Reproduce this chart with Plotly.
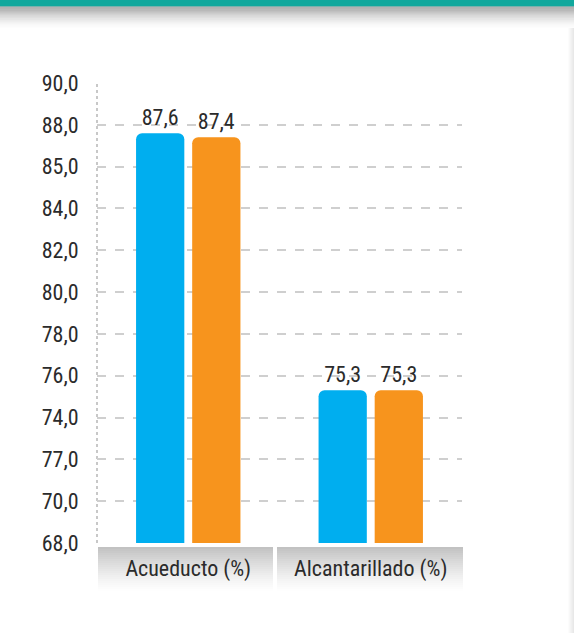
import plotly.graph_objects as go

categories = ["Acueducto (%)", "Alcantarillado (%)"]
series_a = [87.6, 75.3]
series_b = [87.4, 75.3]
tick_values = [68, 70, 72, 74, 76, 78, 80, 82, 84, 86, 88, 90]
tick_labels = ["68,0", "70,0", "77,0", "74,0", "76,0", "78,0", "80,0",
               "82,0", "84,0", "85,0", "88,0", "90,0"]

FONT = "Roboto Condensed, Roboto, sans-serif"
BLUE = "#00AEEF"
ORANGE = "#F7941D"

W, H = 574, 633
L, R, T, B = 97, 112, 83, 90
pw, ph = W - L - R, H - T - B


def px2x(px):
    return (px - L) / pw


def px2y(py):
    return (H - B - py) / ph


fig = go.Figure()
for vals, col in [(series_a, BLUE), (series_b, ORANGE)]:
    fig.add_trace(go.Bar(
        x=categories, y=vals, marker=dict(color=col, line=dict(width=0)),
        texttemplate="%{y:.1f}", textposition="outside",
        textfont=dict(family=FONT, size=22, color="#2b2b2b"),
        cliponaxis=False, hoverinfo="skip"))

shapes = []
# top teal band
shapes.append(dict(type="rect", xref="paper", yref="paper", x0=px2x(0), x1=px2x(W),
                   y0=px2y(0), y1=px2y(6.5), fillcolor="#12A89D", line=dict(width=0), layer="above"))
# shadow below the band
n = 20
for i in range(n):
    y0 = 6.5 + i * 1.1
    a = 0.55 * (1 - i / n) ** 1.6
    shapes.append(dict(type="rect", xref="paper", yref="paper", x0=px2x(0), x1=px2x(W),
                       y0=px2y(y0), y1=px2y(y0 + 1.1), fillcolor=f"rgba(90,90,90,{a:.3f})",
                       line=dict(width=0), layer="above"))
# right edge shadow
for i in range(6):
    x0 = W - 6 + i
    a = 0.02 + 0.03 * i
    shapes.append(dict(type="rect", xref="paper", yref="paper", x0=px2x(x0), x1=px2x(x0 + 1),
                       y0=px2y(28), y1=px2y(H), fillcolor=f"rgba(120,120,120,{a:.3f})",
                       line=dict(width=0), layer="below"))
# category label boxes with gradient
boxes = [(98, 273), (277, 463)]
m = 22
for bx0, bx1 in boxes:
    for i in range(m):
        y0 = 547 + i * 2
        a = 0.42 * (1 - i / m) ** 1.3
        shapes.append(dict(type="rect", xref="paper", yref="paper", x0=px2x(bx0), x1=px2x(bx1),
                           y0=px2y(y0), y1=px2y(y0 + 2), fillcolor=f"rgba(110,110,110,{a:.3f})",
                           line=dict(width=0), layer="below"))
# dotted vertical axis line
shapes.append(dict(type="line", xref="paper", yref="paper", x0=0, x1=0, y0=0, y1=1,
                   line=dict(color="#c8c8c8", width=2, dash="dot"), layer="below"))

fig.update_layout(
    width=W, height=H,
    margin=dict(l=L, r=R, t=T, b=B),
    paper_bgcolor="white", plot_bgcolor="white",
    showlegend=False,
    barmode="group", bargap=0.385, bargroupgap=0.14,
    barcornerradius=6,
    separators=",.",
    shapes=shapes,
    font=dict(family=FONT, color="#2b2b2b"),
    xaxis=dict(showgrid=False, showline=False, zeroline=False,
               ticks="outside", ticklen=6, tickcolor="rgba(0,0,0,0)",
               tickfont=dict(family=FONT, size=22, color="#2b2b2b"),
               range=[-0.5, 1.5], fixedrange=True),
    yaxis=dict(range=[68, 90], tickvals=tick_values, ticktext=tick_labels,
               showgrid=True, gridcolor="#cfcfcf", gridwidth=2, griddash="dash",
               zeroline=False, showline=False,
               ticks="outside", ticklen=13, tickcolor="rgba(0,0,0,0)",
               tickfont=dict(family=FONT, size=22, color="#2b2b2b"),
               fixedrange=True),
)

fig.write_html("out.html", config={"displayModeBar": False},
               post_script="document.body.style.margin='0';document.body.style.overflow='hidden';")
